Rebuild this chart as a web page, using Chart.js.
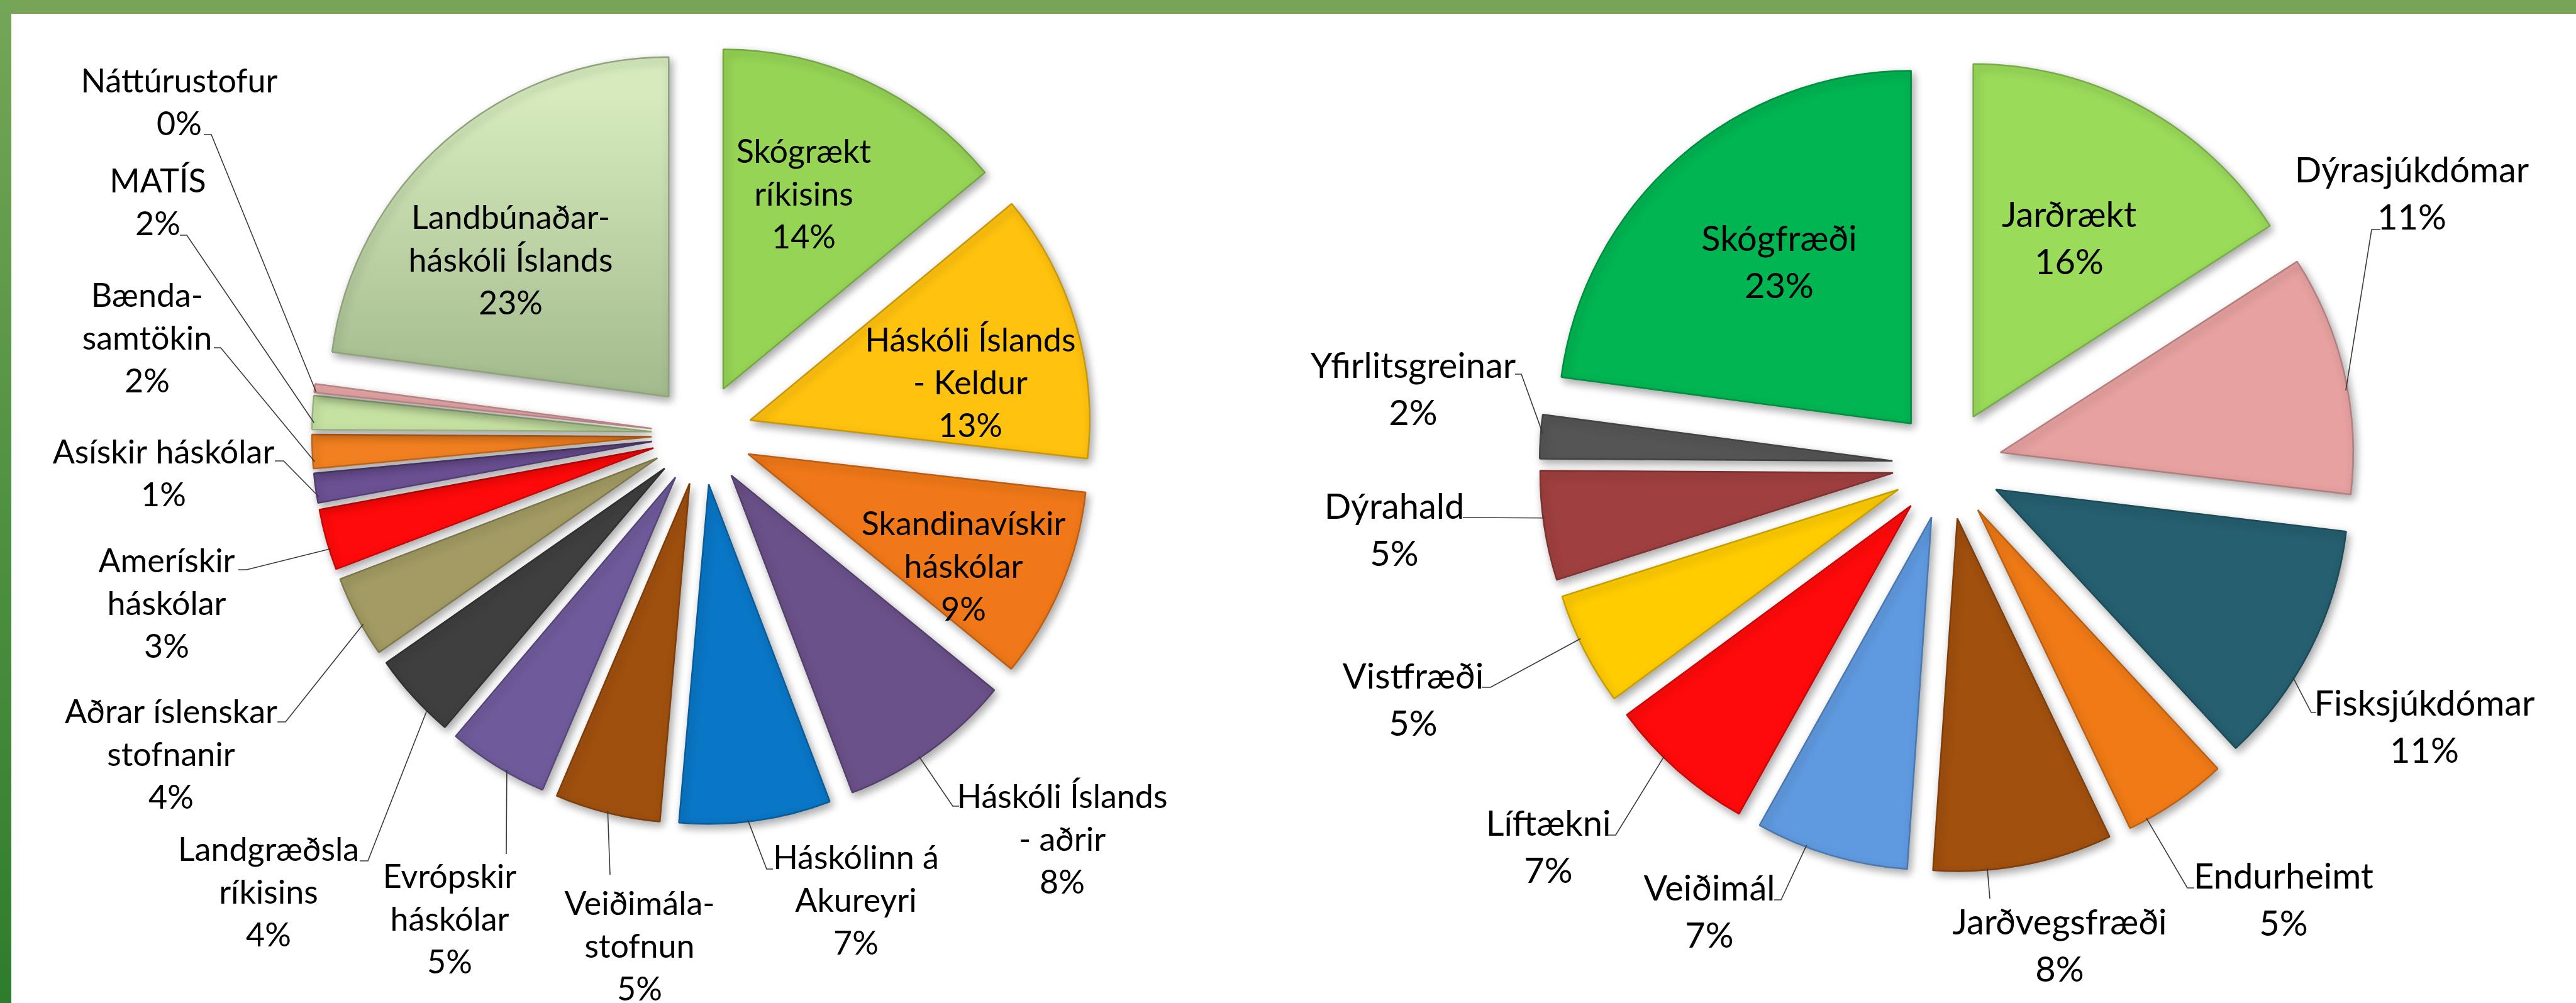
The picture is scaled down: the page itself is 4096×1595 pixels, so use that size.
<!DOCTYPE html>
<html>
<head>
<meta charset="utf-8">
<script src="https://cdn.jsdelivr.net/npm/chart.js@4.4.1/dist/chart.umd.min.js"></script>
<style>
  html, body { margin: 0; padding: 0; background: #fff; }
  body { width: 4096px; height: 1595px; position: relative; overflow: hidden; }
  .band-top { position: absolute; left: 0; top: 0; width: 4096px; height: 22px; background: #77a457; }
  .band-left { position: absolute; left: 0; top: 0; width: 18px; height: 1595px; background: linear-gradient(#74a657, #2e7d2c); }
  canvas { position: absolute; left: 0; top: 0; }
</style>
</head>
<body>
<div class="band-top"></div>
<div class="band-left"></div>
<canvas id="orgChart" width="4096" height="1595"></canvas>
<canvas id="fieldChart" width="4096" height="1595"></canvas>
<script>
// left pie: who the co-authors are
const orgLabels = [
  ['Skógrækt', 'ríkisins'],
  ['Háskóli Íslands', '- Keldur'],
  ['Skandinavískir', 'háskólar'],
  ['Háskóli Íslands', '- aðrir'],
  ['Háskólinn á', 'Akureyri'],
  ['Veiðimála-', 'stofnun'],
  ['Evrópskir', 'háskólar'],
  ['Landgræðsla', 'ríkisins'],
  ['Aðrar íslenskar', 'stofnanir'],
  ['Amerískir', 'háskólar'],
  ['Asískir háskólar'],
  ['Bænda-', 'samtökin'],
  ['MATÍS'],
  ['Náttúrustofur'],
  ['Landbúnaðar-', 'háskóli Íslands']
];
const orgShares = [14.0, 12.8, 9.1, 8.3, 7.2, 5.0, 4.8, 4.1, 3.9, 2.9, 1.4, 1.6, 1.6, 0.4, 22.9];

// right pie: subject fields
const fieldLabels = [
  ['Jarðrækt'], ['Dýrasjúkdómar'], ['Fisksjúkdómar'], ['Endurheimt'], ['Jarðvegsfræði'],
  ['Veiðimál'], ['Líftækni'], ['Vistfræði'], ['Dýrahald'], ['Yfirlitsgreinar'], ['Skógfræði']
];
const fieldShares = [15.9, 11.0, 11.2, 4.8, 8.2, 7.0, 6.8, 5.2, 5.0, 2.0, 22.9];

// colours
const orgColors = ['#95d455', '#ffc20e', '#f07818', '#6b5189', '#0a76c6', '#a0500e', '#6f5b9b',
  '#3f3f3f', '#a39b63', '#ff0a0a', '#6b5093', '#f28020', '#c6e2a2', '#e9a7a7', '#b9d09f'];
const fieldColors = ['#9adb5a', '#e6a1a0', '#255f70', '#f07a16', '#a1500e', '#5f9ae0', '#ff0a0a',
  '#ffcc00', '#a03f3f', '#555555', '#00b552'];
const orgGradients = { 14: ['#d6eabd', '#9cb487'] };

// label placement (page pixels): text centre of first line, leader [ax, ay, ex, ey], where on the arc
const orgPlaces = [
  { x: 1278, y: 242 },
  { x: 1543, y: 542 },
  { x: 1532, y: 834 },
  { x: 1689, y: 1268, leader: [1525, 1282, 1515, 1282], at: 0.57 },
  { x: 1361, y: 1365, leader: [1229, 1382, 1219, 1382], at: 0.55 },
  { x: 1017, y: 1438, leader: [970, 1391, 970, 1391], at: 0.5 },
  { x: 715, y: 1395, leader: [805, 1358, 805, 1358], at: 0.4 },
  { x: 427, y: 1352, leader: [572, 1369, 585, 1369], at: 0.29 },
  { x: 272, y: 1133, leader: [441, 1148, 454, 1148], at: 0.39 },
  { x: 265, y: 893, leader: [379, 906, 392, 906], at: 0.34 },
  { x: 260, y: 720, leader: [437, 733, 451, 733], at: 0.2 },
  { x: 234, y: 471, leader: [340, 553, 351, 553], at: 0.2 },
  { x: 251, y: 289, leader: [286, 374, 297, 374], at: 0.2 },
  { x: 285, y: 130, leader: [324, 214, 336, 214], at: 0.05 },
  { x: 812, y: 347 }
];
const fieldPlaces = [
  { x: 3290, y: 343 },
  { x: 3835, y: 272, leader: [3785, 365, 3771, 365], at: 0.57 },
  { x: 3855, y: 1120, leader: [3683, 1133, 3675, 1133], at: 0.63 },
  { x: 3631, y: 1395, leader: [3489, 1412, 3478, 1412], at: 0.82 },
  { x: 3275, y: 1468, leader: [3164, 1429, 3164, 1429], at: 0.70 },
  { x: 2718, y: 1414, leader: [2821, 1431, 2832, 1431], at: 0.67 },
  { x: 2462, y: 1311, leader: [2556, 1328, 2569, 1328], at: 0.63 },
  { x: 2247, y: 1077, leader: [2356, 1093, 2370, 1093], at: 0.6 },
  { x: 2217, y: 807, leader: [2326, 823, 2340, 823], at: 0.57 },
  { x: 2247, y: 583, leader: [2409, 595, 2419, 595], at: 0.58 },
  { x: 2829, y: 381 }
];

const W = 4096, H = 1595;

const darken = (hex, f) => {
  const n = parseInt(hex.slice(1), 16);
  const c = [n >> 16, (n >> 8) & 255, n & 255].map(v => Math.round(v * f));
  return 'rgb(' + c.join(',') + ')';
};

// explodes the slices, adds a soft shadow, then writes labels + leader lines
const pieDecor = {
  id: 'pieDecor',
  beforeDatasetsDraw(chart, args, opts) {
    const area = chart.chartArea;
    const cx = (area.left + area.right) / 2;
    const cy = (area.top + area.bottom) / 2;
    chart.getDatasetMeta(0).data.forEach(arc => {
      const mid = (arc.startAngle + arc.endAngle) / 2;
      arc.x = cx + Math.cos(mid) * opts.explode;
      arc.y = cy + Math.sin(mid) * opts.explode;
    });
    const ctx = chart.ctx;
    ctx.save();
    ctx.shadowColor = 'rgba(0,0,0,0.35)';
    ctx.shadowBlur = 14;
    ctx.shadowOffsetX = 4;
    ctx.shadowOffsetY = 6;
  },
  afterDatasetsDraw(chart, args, opts) {
    const ctx = chart.ctx;
    ctx.restore();
    const meta = chart.getDatasetMeta(0);
    const values = chart.data.datasets[0].data;
    const total = values.reduce((a, b) => a + b, 0);
    ctx.save();
    ctx.font = opts.fontSize + 'px Lato';
    ctx.fillStyle = '#000';
    ctx.textAlign = 'center';
    ctx.textBaseline = 'middle';
    ctx.strokeStyle = '#3a3a3a';
    ctx.lineWidth = 1.6;
    meta.data.forEach((arc, i) => {
      const place = opts.layout[i];
      const lines = chart.data.labels[i].concat(Math.round(values[i] / total * 100) + '%');
      lines.forEach((t, k) => ctx.fillText(t, place.x, place.y + k * opts.lineHeight));
      if (place.leader) {
        const [ax, ay, ex, ey] = place.leader;
        const a = arc.startAngle + (arc.endAngle - arc.startAngle) * place.at;
        const r = arc.outerRadius - 3;
        ctx.beginPath();
        ctx.moveTo(ax, ay);
        ctx.lineTo(ex, ey);
        ctx.lineTo(arc.x + Math.cos(a) * r, arc.y + Math.sin(a) * r);
        ctx.stroke();
      }
    });
    ctx.restore();
  }
};

function makePie(id, labels, shares, colors, gradients, places, center, radius, explode, fontSize, lineHeight) {
  const hw = Math.min(center[0], W - center[0]);
  const hh = Math.min(center[1], H - center[1]);
  const fill = (c) => {
    const g = gradients[c.dataIndex];
    const area = c.chart.chartArea;
    if (!g || !area) return colors[c.dataIndex];
    const grad = c.chart.ctx.createLinearGradient(0, center[1] - radius, 0, center[1]);
    grad.addColorStop(0, g[0]);
    grad.addColorStop(1, g[1]);
    return grad;
  };
  return new Chart(document.getElementById(id), {
    type: 'pie',
    data: {
      labels: labels,
      datasets: [{
        data: shares,
        backgroundColor: fill,
        borderColor: colors.map(c => darken(c, 0.78)),
        borderWidth: 2.5,
        radius: radius
      }]
    },
    options: {
      responsive: false,
      animation: false,
      devicePixelRatio: 1,
      events: [],
      layout: {
        padding: {
          left: center[0] - hw, right: W - center[0] - hw,
          top: center[1] - hh, bottom: H - center[1] - hh
        }
      },
      plugins: {
        legend: { display: false },
        tooltip: { enabled: false },
        pieDecor: { layout: places, explode: explode, fontSize: fontSize, lineHeight: lineHeight }
      }
    },
    plugins: [pieDecor]
  });
}

function draw() {
  makePie('orgChart', orgLabels, orgShares, orgColors, orgGradients, orgPlaces,
    [1116, 691], 540, 80, 52, 68);
  makePie('fieldChart', fieldLabels, fieldShares, fieldColors, {}, fieldPlaces,
    [3096, 739], 561, 87, 56, 75);
}

Promise.all([document.fonts.load('52px Lato'), document.fonts.load('56px Lato')]).then(draw, draw);
</script>
</body>
</html>
